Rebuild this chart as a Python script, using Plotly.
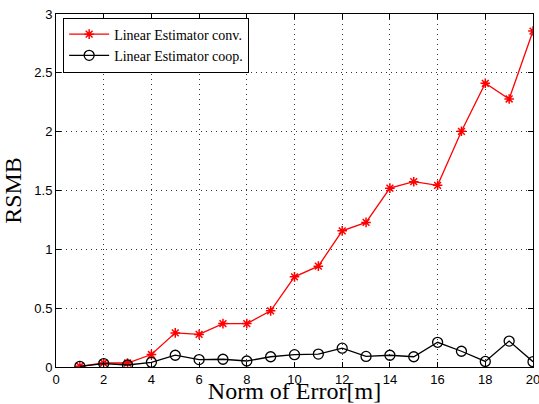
import plotly.graph_objects as go

x_vals = list(range(1, 21))
conv_vals = [0.006, 0.034, 0.034, 0.106, 0.29, 0.277, 0.369, 0.369, 0.477, 0.766,
             0.857, 1.157, 1.229, 1.52, 1.575, 1.544, 2.003, 2.411, 2.278, 2.855]
coop_vals = [0.006, 0.029, 0.017, 0.04, 0.1, 0.063, 0.066, 0.051, 0.087, 0.105,
             0.11, 0.16, 0.09, 0.10, 0.087, 0.21, 0.134, 0.047, 0.22, 0.045]
x_ticks = [0, 2, 4, 6, 8, 10, 12, 14, 16, 18, 20]
y_ticks = [0, 0.5, 1, 1.5, 2, 2.5, 3]
y_tick_text = ["0", "0.5", "1", "1.5", "2", "2.5", "3"]

fig = go.Figure()
fig.add_trace(go.Scatter(
    x=x_vals, y=conv_vals, mode="lines+markers", name="Linear Estimator conv.",
    line=dict(color="#ff0000", width=1.3),
    marker=dict(symbol="asterisk-open", size=8, color="#ff0000",
                line=dict(color="#ff0000", width=1.5)),
))
fig.add_trace(go.Scatter(
    x=x_vals, y=coop_vals, mode="lines+markers", name="Linear Estimator coop.",
    line=dict(color="#000000", width=1.3),
    marker=dict(symbol="circle-open", size=10, color="#000000",
                line=dict(color="#000000", width=1.3)),
))

axis_common = dict(
    showline=True, linecolor="black", linewidth=1, mirror="ticks",
    ticks="inside", ticklen=5, tickcolor="black",
    showgrid=True, gridcolor="#333333", griddash="1px,4px", gridwidth=1,
    zeroline=False, ticklabeloverflow="allow", automargin=False,
    tickfont=dict(family="Liberation Sans, Arial", size=13, color="black"),
)

fig.update_layout(
    width=539, height=404,
    margin=dict(l=56, r=6, t=14, b=37),
    paper_bgcolor="white", plot_bgcolor="white",
    xaxis=dict(range=[0, 20], tickvals=x_ticks,
               title=dict(text="Norm of Error[m]", standoff=0,
                          font=dict(family="Liberation Serif, Times New Roman", size=24, color="black")),
               **axis_common),
    yaxis=dict(range=[0, 3], tickvals=y_ticks, ticktext=y_tick_text,
               title=dict(text="RSMB", standoff=6,
                          font=dict(family="Liberation Serif, Times New Roman", size=24, color="black")),
               **axis_common),
    legend=dict(x=0.015, y=0.99, xanchor="left", yanchor="top",
                bgcolor="white", bordercolor="black", borderwidth=1,
                font=dict(family="Liberation Serif, Times New Roman", size=14, color="black"),
                tracegroupgap=0, itemwidth=40),
    showlegend=True,
)

fig.write_html("out.html", config={"displayModeBar": False},
               post_script="document.body.style.margin='0';document.body.style.padding='0';")
